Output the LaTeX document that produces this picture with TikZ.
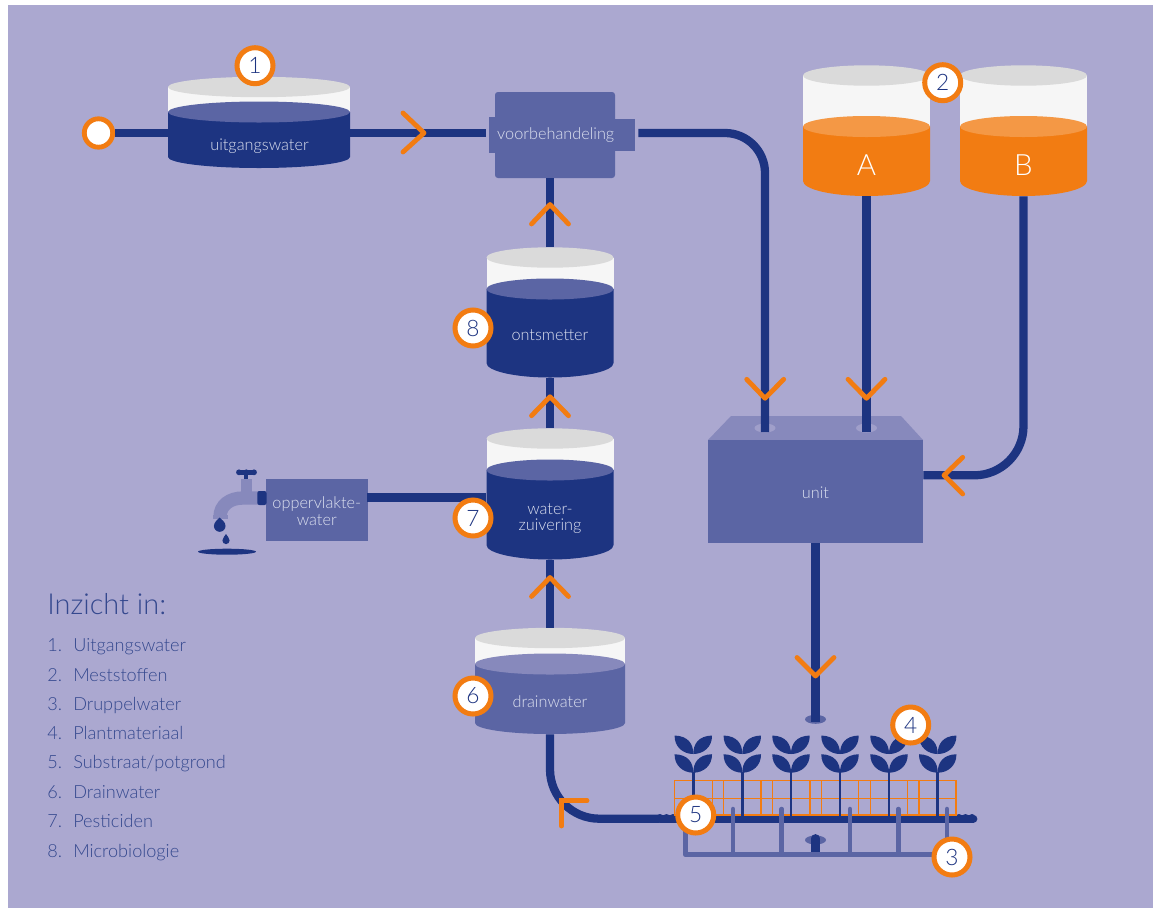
\documentclass[tikz,border=0pt]{standalone}
\usepackage{fontspec}
\setmainfont{Lato}[UprightFont=* Light]
\definecolor{bgc}{HTML}{ABA8D0}
\definecolor{navy}{HTML}{1D3481}
\definecolor{midb}{HTML}{5B65A4}
\definecolor{lightb}{HTML}{8789BC}
\definecolor{org}{HTML}{F27C12}
\definecolor{lorg}{HTML}{F49845}
\definecolor{lidc}{HTML}{DADADA}
\definecolor{glass}{HTML}{F6F6F6}
\definecolor{labc}{HTML}{DDE1F0}
\tikzset{
  pipe/.style={draw=navy,line width=6.2pt},
  chev/.style={draw=org,line width=3.6pt,line cap=round,line join=round},
  badge/.style={circle,fill=white,draw=org,line width=3.75pt,inner sep=0pt,minimum size=27pt,text=navy,font=\fontsize{17}{17}\selectfont},
  lab/.style={text=labc,align=center,inner sep=0pt,font=\fontsize{12.2}{12.6}\selectfont},
  leg/.style={text=navy!90!white,anchor=base west,inner sep=0pt,font=\fontsize{13.6}{15}\selectfont},
  drip/.style={draw=midb,line width=3.4pt,line cap=round},
  grd/.style={draw=org,line width=0.9pt},
  dotpt/.style={inner sep=0pt,minimum size=0pt},
}
% name, cx, rx, ytop, ysurf, ybot, rybot, liquid, surface
\newcommand{\tankat}[9]{%
  \fill[glass] (#2-#3,#4) rectangle (#2+#3,#5);
  \fill[lidc] (#2,#4) ellipse [x radius=#3,y radius=10.2];
  \fill[#8] (#2-#3,#5) -- (#2-#3,#6) arc [start angle=180,end angle=0,x radius=#3,y radius=#7] -- (#2+#3,#5) -- cycle;
  \fill[#9] (#2,#5) ellipse [x radius=#3,y radius=10.5];
  \node[inner sep=0pt,minimum width=#3*1.5pt,minimum height={(#6+#7-#4+10.2)*0.75pt}] (#1) at (#2,{(#4-10.2+#6+#7)/2}) {};
}
\newcommand{\leafpair}[2]{%
  \fill[navy] (#1,#2) .. controls (#1,#2-10) and (#1-5,#2-18) .. (#1-18.7,#2-18.5) .. controls (#1-19,#2-7) and (#1-10,#2) .. (#1,#2) -- cycle;
  \fill[navy] (#1,#2) .. controls (#1,#2-10) and (#1+5,#2-18) .. (#1+18.7,#2-18.5) .. controls (#1+19,#2-7) and (#1+10,#2) .. (#1,#2) -- cycle;
}
\begin{document}
\begin{tikzpicture}[x=0.75pt,y=-0.75pt]
\useasboundingbox (0,0) rectangle (1153,908);
\fill[white] (0,0) rectangle (1153,908);
\fill[bgc] (8,5) rectangle (1153,908);

% tanks
\tankat{tone}{259}{91}{87}{112}{157}{11}{navy}{midb}
\node[lab] (toneL) at (259.5,146) {uitgangswater};
\tankat{tA}{866.5}{63.5}{75.5}{126.5}{181}{15}{org}{lorg}
\node[lab,text=white,font=\fontsize{22}{22}\selectfont] (tAL) at (866.5,165) {A};
\tankat{tB}{1023.5}{63.5}{75.5}{126.5}{181}{15}{org}{lorg}
\node[lab,text=white,font=\fontsize{22}{22}\selectfont] (tBL) at (1023.5,165) {B};
\tankat{teight}{550}{63.5}{257.5}{289}{363}{14.5}{navy}{midb}
\node[lab] (teightL) at (550,335) {ontsmetter};
\tankat{tseven}{550}{63.5}{438.5}{470}{545}{14.5}{navy}{midb}
\node[lab] (tsevenL) at (550,518.5) {water-\\zuivering};
\tankat{tsix}{550}{75}{638}{664}{723}{11}{midb}{lightb}
\node[lab] (tsixL) at (550,702) {drainwater};

% voorbehandeling
\node[fill=midb,inner sep=0pt,minimum width=15pt,minimum height=27pt] (vbl) at (499,135) {};
\node[fill=midb,inner sep=0pt,minimum width=18pt,minimum height=24pt] (vbr) at (623,135) {};
\node[fill=midb,rounded corners=2.2pt,inner sep=0pt,minimum width=90pt,minimum height=64.5pt] (vb) at (555,135) {};
\node[lab] (vbL) at (555.7,135) {voorbehandeling};
\node[dotpt] (vbIn) at (486,133) {};
\node[dotpt] (vbOut) at (638,133) {};

% oppervlaktewater
\node[fill=midb,minimum width=76.5pt,minimum height=46.2pt,inner sep=0pt] (opp) at (316.8,509.8) {};
\node[lab] (oppL) at (316.8,511.5) {oppervlakte-\\water};
\node[dotpt] (oppOut) at (367,497.5) {};

% unit
\fill[lightb] (708,440) -- (731,416) -- (901,416) -- (923,440) -- cycle;
\node[fill=midb,minimum width=161.25pt,minimum height=77.25pt,inner sep=0pt] (unit) at (815.5,491.5) {};
\node[lab] (unitL) at (815.5,493) {unit};
\node[dotpt] (holeA) at (765,432.5) {};
\node[dotpt] (holeB) at (866.5,432.5) {};
\node[dotpt] (unitIn) at (923,475.3) {};
\fill[bgc!70!lightb] (765,428) ellipse [x radius=10.5,y radius=4.5];
\fill[bgc!70!lightb] (866.5,428) ellipse [x radius=10.5,y radius=4.5];

% start, end markers
\node[circle,fill=white,draw=org,line width=3.6pt,inner sep=0pt,minimum size=21.3pt] (start) at (98.5,133) {};
\fill[midb] (815.5,719.3) ellipse [x radius=10.5,y radius=4.5];
\node[dotpt] (dripTop) at (815.5,722) {};
\fill[midb] (815.5,840) ellipse [x radius=10.5,y radius=4.5];
\node[dotpt] (dripLow) at (815.5,838) {};
\node[dotpt] (manifold) at (815.5,853) {};
\node[dotpt] (subEnd) at (973.5,818.7) {};
\node[dotpt] (subStart) at (660,818.7) {};

% pipes
\draw[pipe] (start) -- (tone.west |- start);
\draw[pipe] (tone.east |- vbIn) -- (vbIn);
\draw[pipe,rounded corners=30pt] (vbOut) -| (holeA);
\draw[pipe] (teight.north) -- (teight.north |- vb.south);
\draw[pipe] (tseven.north) -- (teight.south);
\draw[pipe] (tsix.north) -- (tseven.south);
\draw[pipe] (oppOut) -- (oppOut -| tseven.west);
\draw[pipe] (tA.south) -- (holeB);
\draw[pipe,rounded corners=37pt] (tB.south) |- (unitIn);
\draw[pipe] (unit.south) -- (dripTop);
\draw[pipe,rounded corners=37pt] (tsix.south) |- (subStart);
\draw[pipe,line cap=round] (subStart) -- (subEnd);
\draw[pipe,line cap=round] (dripLow) -- (manifold);
\foreach \x in {660,666.5,...,974} \fill[navy] (\x,817.2) circle [radius=3.2];

% orange grid
\draw[grd] (674.7,780.3) rectangle (956,815);
\draw[grd] (674.7,798.7) -- (956,798.7);
\foreach \x in {712.3,723.7,761,772.3,810,821.3,858.7,870.3,907.7,919} \draw[grd] (\x,780.3) -- (\x,815);

% plants
\foreach \x in {693.3,742.3,791,840,889,937.7}{
  \draw[navy,line width=2.2pt] (\x,772) -- (\x,816);
  \leafpair{\x}{754}
  \leafpair{\x}{772.7}
}

% irrigation
\draw[drip,line cap=butt,line join=round] (685.3,825) -- (685.3,854.7) -- (950,854.7);
\foreach \x in {733,781.7,850,898.3,947} \draw[drip] (\x,854.7) -- (\x,809);

% tap
\draw[lightb,line width=10pt] (258,498) -- (243,498) .. controls (230,498) and (220,505) .. (220,517);
\fill[lightb] (240.7,479) rectangle (252,498);
\fill[lightb] (213,515) rectangle (228,519);
\draw[navy,line width=4pt] (238,472.3) -- (255,472.3);
\foreach \x in {239,246.3,254} \fill[navy] (\x,472.3) circle [radius=2.9];
\draw[navy,line width=3pt] (246.3,472) -- (246.3,479);
\fill[navy,rounded corners=1.5pt] (257.3,491) rectangle (266.5,505);
\fill[navy] (219.7,517.5) .. controls (222,520) and (225.5,522) .. (225.5,526) arc [start angle=0,end angle=180,radius=5.8] .. controls (214,522) and (217.5,520) .. (219.7,517.5) -- cycle;
\fill[navy] (226,534) .. controls (227,536) and (229.6,538) .. (229.6,540.5) arc [start angle=0,end angle=180,radius=3.6] .. controls (222.4,538) and (225,536) .. (226,534) -- cycle;
\fill[navy] (227,551.7) ellipse [x radius=29,y radius=3];

% chevrons
\draw[chev] (403,113) -- (424,133) -- (403,152);
\draw[chev] (531.5,224) -- (550,204.5) -- (568.5,224);
\draw[chev] (531.5,415.7) -- (550,396.7) -- (568.5,415.7);
\draw[chev] (531.5,596.5) -- (550,577.5) -- (568.5,596.5);
\draw[chev] (746.7,379.3) -- (765,398.3) -- (783.7,379.3);
\draw[chev] (848,379.3) -- (866.5,398.3) -- (885,379.3);
\draw[chev] (962.7,457.3) -- (944,475.3) -- (962.7,494);
\draw[chev] (797,657.5) -- (815.5,676) -- (834,657.5);
\draw[chev,line join=miter,line cap=round] (587,800.7) -- (561.3,800.7) -- (561.3,826);

% badges
\node[badge] (b1) at (255,65.7) {1};
\node[badge] (b2) at (942.7,82.7) {2};
\node[badge] (b3) at (952,857) {3};
\node[badge] (b4) at (910.7,725) {4};
\node[badge] (b5) at (695.7,815) {5};
\node[badge] (b6) at (473,696) {6};
\node[badge] (b7) at (473,518) {7};
\node[badge] (b8) at (473,328) {8};

% legend
\node[leg,font=\fontsize{21.7}{22}\selectfont] (ltitle) at (47,614) {Inzicht in:};
\foreach \n/\t/\yy in {1/Uitgangswater/651.5,2/Meststoffen/681,3/Druppelwater/710,4/Plantmateriaal/739.5,5/Substraat\slash potgrond/768.5,6/Drainwater/798,7/Pesticiden/827,8/Microbiologie/857}{
  \node[leg] (ln\n) at (47,\yy) {\n.};
  \node[leg] (lt\n) at (73,\yy) {\t};
}
\end{tikzpicture}
\end{document}
